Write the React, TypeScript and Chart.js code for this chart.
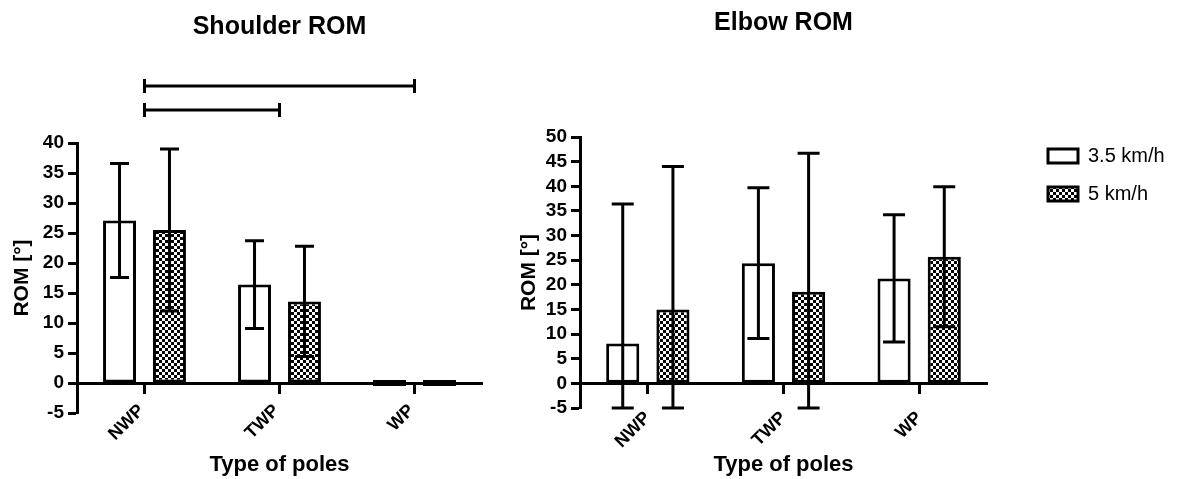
import React, { useEffect, useRef } from 'react';
import { Chart, registerables } from 'chart.js';

Chart.register(...registerables);

const FONT = "'Liberation Sans', Arial, Helvetica, sans-serif";
Chart.defaults.font.family = FONT;
Chart.defaults.color = '#000';

// Categories and series
const poleTypes = ['NWP', 'TWP', 'WP'];
const speedLabels = ['3.5 km/h', '5 km/h'];

// Shoulder range of motion: mean and SD per pole type
const shoulderMean35 = [27.1, 16.4, 0];
const shoulderSd35 = [9.5, 7.3, 0];
const shoulderMean5 = [25.5, 13.6, 0];
const shoulderSd5 = [13.5, 9.2, 0];

// Elbow range of motion: mean and SD per pole type
const elbowMean35 = [8.1, 24.4, 21.3];
const elbowSd35 = [28.3, 15.3, 12.9];
const elbowMean5 = [15.0, 18.6, 25.7];
const elbowSd5 = [29.0, 28.1, 14.2];

// Value axis ticks
const shoulderAxis = { min: -5, max: 40, step: 5 };
const elbowAxis = { min: -5, max: 50, step: 5 };

// Significant pairwise comparisons (category index pairs) for the shoulder panel
const shoulderComparisons = [
  [0, 1],
  [0, 2],
];

// Mean ± SD whiskers, clipped to the value axis range
const errorBarPlugin = {
  id: 'errorBars',
  afterDatasetsDraw(chart: any, _args: any, opts: any) {
    const { ctx } = chart;
    const yScale = chart.scales.y;
    const half = (opts.capWidth || 18) / 2;
    ctx.save();
    ctx.strokeStyle = '#000';
    ctx.lineWidth = opts.lineWidth || 3;
    ctx.lineCap = 'butt';
    chart.data.datasets.forEach((ds: any, di: number) => {
      const sds: number[] | undefined = ds.sd;
      if (!sds) return;
      const meta = chart.getDatasetMeta(di);
      meta.data.forEach((bar: any, i: number) => {
        const mean = ds.data[i];
        const sd = sds[i];
        if (!sd) return;
        const lo = Math.max(mean - sd, yScale.min);
        const hi = Math.min(mean + sd, yScale.max);
        const x = bar.x;
        const yl = yScale.getPixelForValue(lo);
        const yh = yScale.getPixelForValue(hi);
        ctx.beginPath();
        ctx.moveTo(x, yl);
        ctx.lineTo(x, yh);
        ctx.moveTo(x - half, yh);
        ctx.lineTo(x + half, yh);
        ctx.moveTo(x - half, yl);
        ctx.lineTo(x + half, yl);
        ctx.stroke();
      });
    });
    ctx.restore();
  },
};

// Comparison brackets drawn above the plot area
const bracketPlugin = {
  id: 'comparisonBrackets',
  afterDraw(chart: any, _args: any, opts: any) {
    const pairs: number[][] = opts.pairs || [];
    if (!pairs.length) return;
    const { ctx, chartArea } = chart;
    const xScale = chart.scales.x;
    ctx.save();
    ctx.strokeStyle = '#000';
    ctx.lineWidth = 3;
    pairs.forEach((pair, k) => {
      const y = chartArea.top - opts.rise[k];
      const x1 = xScale.getPixelForValue(pair[0]);
      const x2 = xScale.getPixelForValue(pair[1]);
      ctx.beginPath();
      ctx.moveTo(x1, y);
      ctx.lineTo(x2, y);
      ctx.moveTo(x1, y - opts.tick);
      ctx.lineTo(x1, y + opts.tick);
      ctx.moveTo(x2, y - opts.tick);
      ctx.lineTo(x2, y + opts.tick);
      ctx.stroke();
    });
    ctx.restore();
  },
};

// Moves the right-hand legend away from the plot area
const legendPlacementPlugin = {
  id: 'legendPlacement',
  afterLayout(chart: any, _args: any, opts: any) {
    const lg = chart.legend;
    if (!lg || !opts.enabled) return;
    const h = lg.height;
    lg.left = chart.chartArea.right + opts.dx;
    lg.right = chart.width;
    lg.width = lg.right - lg.left;
    lg.top = chart.chartArea.top + opts.dy;
    lg.bottom = lg.top + h;
  },
};

function checkerPattern(): CanvasPattern | string {
  const c = document.createElement('canvas');
  c.width = 6;
  c.height = 6;
  const g = c.getContext('2d');
  if (!g) return '#777';
  g.fillStyle = '#000';
  g.fillRect(0, 0, 6, 6);
  g.fillStyle = '#fff';
  g.fillRect(0, 0, 3, 3);
  g.fillRect(3, 3, 3, 3);
  return g.createPattern(c, 'repeat') || '#777';
}

type PanelSpec = {
  title: string;
  m35: number[];
  s35: number[];
  m5: number[];
  s5: number[];
  axis: { min: number; max: number; step: number };
  padding: { left: number; right: number; top: number; bottom: number };
  titlePad: { top: number; bottom: number };
  yWidth: number;
  capWidth: number;
  tickPad: number;
  labelOffset: number;
  xTitlePad: number;
  legend: boolean;
  comparisons?: number[][];
};

function buildConfig(p: PanelSpec, pattern: CanvasPattern | string): any {
  const common = {
    borderColor: '#000',
    borderWidth: 3,
    borderSkipped: false,
    minBarLength: 6,
    barPercentage: 0.66,
    categoryPercentage: 0.74,
  };
  return {
    type: 'bar',
    data: {
      labels: poleTypes,
      datasets: [
        { ...common, label: speedLabels[0], data: p.m35, sd: p.s35, backgroundColor: '#fff' },
        { ...common, label: speedLabels[1], data: p.m5, sd: p.s5, backgroundColor: pattern },
      ],
    },
    options: {
      responsive: false,
      animation: false,
      events: [],
      layout: { padding: p.padding },
      scales: {
        x: {
          type: 'category',
          position: { y: 0 },
          offset: true,
          grid: {
            offset: false,
            drawOnChartArea: false,
            drawTicks: true,
            tickLength: 9,
            tickWidth: 3,
            tickColor: '#000',
          },
          border: { display: true, color: '#000', width: 3 },
          ticks: {
            color: '#000',
            font: { size: 18, weight: 'bold' },
            minRotation: 45,
            maxRotation: 45,
            padding: p.tickPad,
            labelOffset: p.labelOffset,
            autoSkip: false,
          },
          title: {
            display: true,
            text: 'Type of poles',
            color: '#000',
            font: { size: 22, weight: 'bold' },
            padding: { top: p.xTitlePad, bottom: 0 },
          },
        },
        y: {
          min: p.axis.min,
          max: p.axis.max,
          ticks: {
            stepSize: p.axis.step,
            autoSkip: false,
            color: '#000',
            font: { size: 19, weight: 'bold' },
            padding: 4,
          },
          grid: {
            drawOnChartArea: false,
            tickLength: 9,
            tickWidth: 3,
            tickColor: '#000',
          },
          border: { display: true, color: '#000', width: 3 },
          title: {
            display: true,
            text: 'ROM [°]',
            color: '#000',
            font: { size: 21, weight: 'bold' },
            padding: { top: 10, bottom: 0 },
          },
          afterFit: (scale: any) => {
            scale.width = p.yWidth;
          },
        },
      },
      plugins: {
        title: {
          display: true,
          text: p.title,
          color: '#000',
          fullSize: false,
          font: { size: 25, weight: 'bold' },
          padding: p.titlePad,
        },
        legend: {
          display: p.legend,
          position: 'right',
          align: 'start',
          fullSize: false,
          maxWidth: 100,
          labels: {
            boxWidth: 30,
            boxHeight: 14,
            padding: 18,
            color: '#000',
            font: { size: 20 },
          },
        },
        tooltip: { enabled: false },
        errorBars: { capWidth: p.capWidth, lineWidth: 3 },
        comparisonBrackets: { pairs: p.comparisons || [], rise: [33, 57], tick: 7 },
        legendPlacement: { enabled: p.legend, dx: 43, dy: -9 },
      },
    },
    plugins: [errorBarPlugin, bracketPlugin, legendPlacementPlugin],
  };
}

const shoulderPanel: PanelSpec = {
  title: 'Shoulder ROM',
  m35: shoulderMean35,
  s35: shoulderSd35,
  m5: shoulderMean5,
  s5: shoulderSd5,
  axis: shoulderAxis,
  padding: { left: 0, right: 18, top: 0, bottom: 66 },
  titlePad: { top: 12, bottom: 101 },
  yWidth: 77,
  capWidth: 19,
  tickPad: 8,
  labelOffset: -3,
  xTitlePad: -1,
  legend: false,
  comparisons: shoulderComparisons,
};

const elbowPanel: PanelSpec = {
  title: 'Elbow ROM',
  m35: elbowMean35,
  s35: elbowSd35,
  m5: elbowMean5,
  s5: elbowSd5,
  axis: elbowAxis,
  padding: { left: 27, right: 109, top: 0, bottom: 71 },
  titlePad: { top: 8, bottom: 99 },
  yWidth: 73,
  capWidth: 22,
  tickPad: 15,
  labelOffset: 0,
  xTitlePad: -16,
  legend: true,
};

function RomPanel({ spec, left, width }: { spec: PanelSpec; left: number; width: number }) {
  const ref = useRef<HTMLCanvasElement>(null);
  useEffect(() => {
    if (!ref.current) return;
    const chart = new Chart(ref.current, buildConfig(spec, checkerPattern()));
    return () => chart.destroy();
  }, [spec]);
  return (
    <canvas
      ref={ref}
      width={width}
      height={479}
      style={{ position: 'absolute', left, top: 0, width, height: 479, display: 'block' }}
    />
  );
}

export default function App() {
  return (
    <div
      style={{
        position: 'absolute',
        left: 0,
        top: 0,
        width: 1196,
        height: 479,
        background: '#fff',
        overflow: 'hidden',
      }}
    >
      <RomPanel spec={shoulderPanel} left={0} width={500} />
      <RomPanel spec={elbowPanel} left={480} width={716} />
    </div>
  );
}
